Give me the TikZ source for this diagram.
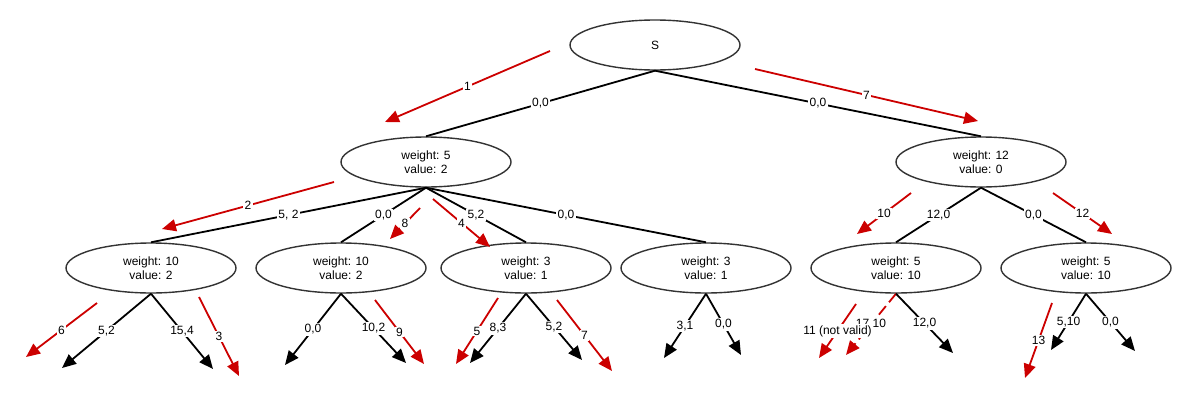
\documentclass[tikz,border=0pt]{standalone}
\usepackage{fontspec}
\setmainfont{Liberation Sans}
\usetikzlibrary{shapes.geometric, arrows.meta}
\definecolor{visitred}{RGB}{204, 0, 0}
\definecolor{rimgray}{RGB}{51, 51, 51}

\begin{document}
\begin{tikzpicture}[
    x=1pt, y=-1pt,
    every node/.style = {align=center, font=\fontsize{12}{14}\selectfont},
    sack/.style = {
        ellipse, draw=rimgray, line width=1.4pt, fill=white,
        minimum width=170pt, minimum height=50pt, inner sep=0pt
    },
    lbl/.style    = {fill=white, text=black, inner sep=1.2pt},
    link/.style   = {line width=1.8pt, black},
    branch/.style = {link, -{Triangle[length=14pt, width=12pt]}},
    visit/.style  = {-{Triangle[length=14pt, width=12pt]}, line width=1.8pt, visitred},
    invalid/.style= {visit, dash pattern=on 11pt off 5pt},
]
\useasboundingbox (0,0) rectangle (1191,402);

% --- Knoten (Ellipsen) ---
\node[sack] (s)  at (655,45)  {S};
\node[sack] (a1) at (426,162) {weight: 5\\value: 2};
\node[sack] (a2) at (981,162) {weight: 12\\value: 0};
\node[sack] (b1) at (151,268) {weight: 10\\value: 2};
\node[sack] (b2) at (341,268) {weight: 10\\value: 2};
\node[sack] (b3) at (526,268) {weight: 3\\value: 1};
\node[sack] (b4) at (706,268) {weight: 3\\value: 1};
\node[sack] (b5) at (896,268) {weight: 5\\value: 10};
\node[sack] (b6) at (1086,268) {weight: 5\\value: 10};

% --- Blattenden ---
\coordinate (b1l) at (62,368);   \coordinate (b1r) at (213,369);
\coordinate (b2l) at (285,365);  \coordinate (b2r) at (406,363);
\coordinate (b3l) at (470,363);  \coordinate (b3r) at (582,360);
\coordinate (b4l) at (664,358);  \coordinate (b4r) at (741,355);
\coordinate (b5l) at (846,355);  \coordinate (b5r) at (953,353);
\coordinate (b6l) at (1051,350); \coordinate (b6r) at (1135,351);

% --- Baum (schwarz) ---
\draw[link] (s.south)  -- node[lbl] {0,0} (a1.north);
\draw[link] (s.south)  -- node[lbl] {0,0} (a2.north);
\draw[link] (a1.south) -- node[lbl] {5, 2} (b1.north);
\draw[link] (a1.south) -- node[lbl] {0,0} (b2.north);
\draw[link] (a1.south) -- node[lbl] {5,2} (b3.north);
\draw[link] (a1.south) -- node[lbl] {0,0} (b4.north);
\draw[link] (a2.south) -- node[lbl] {12,0} (b5.north);
\draw[link] (a2.south) -- node[lbl] {0,0} (b6.north);

\draw[branch] (b1.south) -- node[lbl] {5,2} (b1l);
\draw[branch] (b1.south) -- node[lbl] {15,4} (b1r);
\draw[branch] (b2.south) -- node[lbl] {0,0} (b2l);
\draw[branch] (b2.south) -- node[lbl] {10,2} (b2r);
\draw[branch] (b3.south) -- node[lbl] {8,3} (b3l);
\draw[branch] (b3.south) -- node[lbl] {5,2} (b3r);
\draw[branch] (b4.south) -- node[lbl] {3,1} (b4l);
\draw[branch] (b4.south) -- node[lbl] {0,0} (b4r);
\draw[invalid] (b5.south) -- node[lbl] {17,10} (b5l);
\draw[branch] (b5.south) -- node[lbl] {12,0} (b5r);
\draw[branch] (b6.south) -- node[lbl] {5,10} (b6l);
\draw[branch] (b6.south) -- node[lbl] {0,0} (b6r);

% --- Reihenfolge der Suche (rot) ---
\coordinate (v1s)  at (550,51);   \coordinate (v1e)  at (385,122);
\coordinate (v7s)  at (755,69);   \coordinate (v7e)  at (978,121);
\coordinate (v2s)  at (334,182);  \coordinate (v2e)  at (162,229);
\coordinate (v8s)  at (420,208);  \coordinate (v8e)  at (390,239);
\coordinate (v4s)  at (433,199);  \coordinate (v4e)  at (490,247);
\coordinate (v10s) at (911,193);  \coordinate (v10e) at (857,234);
\coordinate (v12s) at (1053,193); \coordinate (v12e) at (1112,234);
\coordinate (v6s)  at (97,303);   \coordinate (v6e)  at (26,357);
\coordinate (v3s)  at (199,297);  \coordinate (v3e)  at (239,376);
\coordinate (v9s)  at (375,300);  \coordinate (v9e)  at (424,364);
\coordinate (v5s)  at (498,298);  \coordinate (v5e)  at (456,364);
\coordinate (v7bs) at (557,300);  \coordinate (v7be) at (612,371);
\coordinate (v11s) at (856,304);  \coordinate (v11e) at (819,358);
\coordinate (v13s) at (1052,303); \coordinate (v13e) at (1025,378);

\draw[visit] (v1s)  -- node[lbl] {1} (v1e);
\draw[visit] (v7s)  -- node[lbl] {7} (v7e);
\draw[visit] (v2s)  -- node[lbl] {2} (v2e);
\draw[visit] (v8s)  -- node[lbl] {8} (v8e);
\draw[visit] (v4s)  -- node[lbl] {4} (v4e);
\draw[visit] (v10s) -- node[lbl] {10} (v10e);
\draw[visit] (v12s) -- node[lbl] {12} (v12e);
\draw[visit] (v6s)  -- node[lbl] {6} (v6e);
\draw[visit] (v3s)  -- node[lbl] {3} (v3e);
\draw[visit] (v9s)  -- node[lbl] {9} (v9e);
\draw[visit] (v5s)  -- node[lbl] {5} (v5e);
\draw[visit] (v7bs) -- node[lbl] {7} (v7be);
\draw[visit] (v11s) -- node[lbl] {11 (not valid)} (v11e);
\draw[visit] (v13s) -- node[lbl] {13} (v13e);

\end{tikzpicture}
\end{document}
